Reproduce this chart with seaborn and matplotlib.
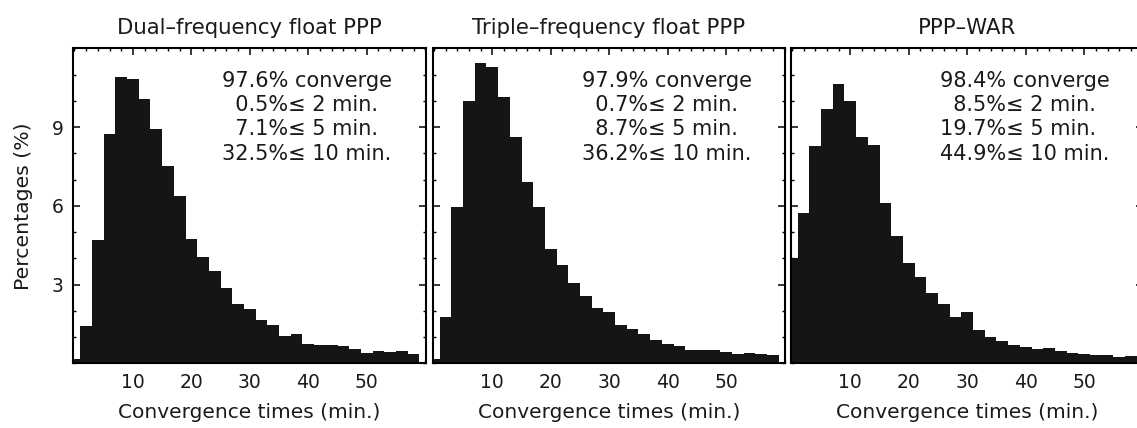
import numpy as np
import pandas as pd
import matplotlib
matplotlib.use("Agg")
import matplotlib.pyplot as plt
import seaborn as sns
from matplotlib.ticker import MultipleLocator

# ---------------- data ----------------
titles = ["Dual\u2013frequency float PPP", "Triple\u2013frequency float PPP", "PPP\u2013WAR"]
bin_centers = list(range(0, 60, 2))  # minutes, 2-min bins
dual = [0.18, 1.42, 4.69, 8.73, 10.90, 10.83, 10.05, 8.92, 7.51, 6.38,
        4.73, 4.04, 3.51, 2.87, 2.25, 2.05, 1.64, 1.45, 1.04, 1.10,
        0.75, 0.69, 0.71, 0.66, 0.55, 0.41, 0.45, 0.42, 0.46, 0.34]
triple = [0.17, 1.78, 5.97, 9.98, 11.45, 11.28, 10.15, 8.63, 6.91, 5.96,
          4.36, 3.75, 3.06, 2.57, 2.11, 1.94, 1.46, 1.30, 1.11, 0.88,
          0.74, 0.66, 0.51, 0.51, 0.50, 0.42, 0.34, 0.39, 0.34, 0.30]
war = [4.03, 5.74, 8.27, 9.69, 10.65, 10.01, 8.63, 8.32, 6.09, 4.85,
       3.82, 3.29, 2.68, 2.26, 1.78, 1.96, 1.27, 1.00, 0.86, 0.70,
       0.61, 0.55, 0.60, 0.47, 0.41, 0.36, 0.30, 0.32, 0.23, 0.29]
series = [dual, triple, war]
converge_pct = [97.6, 97.9, 98.4]
le2_pct = [0.5, 0.7, 8.5]
le5_pct = [7.1, 8.7, 19.7]
le10_pct = [32.5, 36.2, 44.9]
x_ticks = [10, 20, 30, 40, 50]
y_ticks = [3, 6, 9]

# ---------------- style ----------------
sns.set_theme(style="ticks")
plt.rcParams['font.family'] = ['DejaVu Sans']
plt.rcParams['axes.linewidth'] = 1.5
BAR = '#151515'
TXT = '#1a1a1a'

W, H = 1137, 428
fig = plt.figure(figsize=(W / 100, H / 100), dpi=100)

ax_top_px, ax_bot_px = 48.3, 363.3
lefts_px = [73.3, 432.7, 790.7]
width_px = 352.5

edges = [float(c) - 1.0 for c in bin_centers] + [float(bin_centers[-1]) + 1.0]


def fmt(v):
    s = f"{v:.1f}"
    return ("\u2007" + s) if v < 10 else s


axes = []
for i in range(3):
    ax = fig.add_axes([lefts_px[i] / W, (H - ax_bot_px) / H,
                       width_px / W, (ax_bot_px - ax_top_px) / H])
    axes.append(ax)
    df = pd.DataFrame({"center": bin_centers, "pct": series[i]})
    sns.histplot(data=df, x="center", weights="pct", bins=edges,
                 stat="count", color=BAR, alpha=1, linewidth=0, ax=ax)
    ax.set_xlim(-0.2, 60.1)
    ax.set_ylim(0, 12)
    ax.set_xticks(x_ticks)
    ax.set_xticklabels([str(t) for t in x_ticks])
    ax.xaxis.set_minor_locator(MultipleLocator(2))
    ax.set_yticks(y_ticks)
    ax.yaxis.set_minor_locator(MultipleLocator(1))
    if i == 0:
        ax.set_yticklabels([str(t) for t in y_ticks])
        ax.set_ylabel("Percentages (%)", fontsize=14.7, color=TXT, labelpad=13.5)
    else:
        ax.set_yticklabels([])
        ax.set_ylabel("")
    ax.set_xlabel("Convergence times (min.)", fontsize=14.5, color=TXT, labelpad=8)
    ax.tick_params(which='both', direction='in', top=True, right=True,
                   bottom=True, left=True, color='black', labelcolor=TXT,
                   labelsize=13.5)
    ax.tick_params(which='major', length=5, width=1.1, pad=7)
    ax.tick_params(which='minor', length=2.5, width=1.0)
    for sp in ax.spines.values():
        sp.set_color('black')
        sp.set_linewidth(1.5)
    ax.set_title(titles[i], fontsize=15.3, color=TXT, pad=10.5)

    lines = [f"{fmt(converge_pct[i])}% converge",
             f"{fmt(le2_pct[i])}%\u2264 2 min.",
             f"{fmt(le5_pct[i])}%\u2264 5 min.",
             f"{fmt(le10_pct[i])}%\u2264 10 min."]
    for k, line in enumerate(lines):
        ax.text(25.3, 10.54 - 0.93 * k, line, ha='left', va='baseline',
                fontsize=15, color=TXT)

fig.savefig("out.png", dpi=100)
